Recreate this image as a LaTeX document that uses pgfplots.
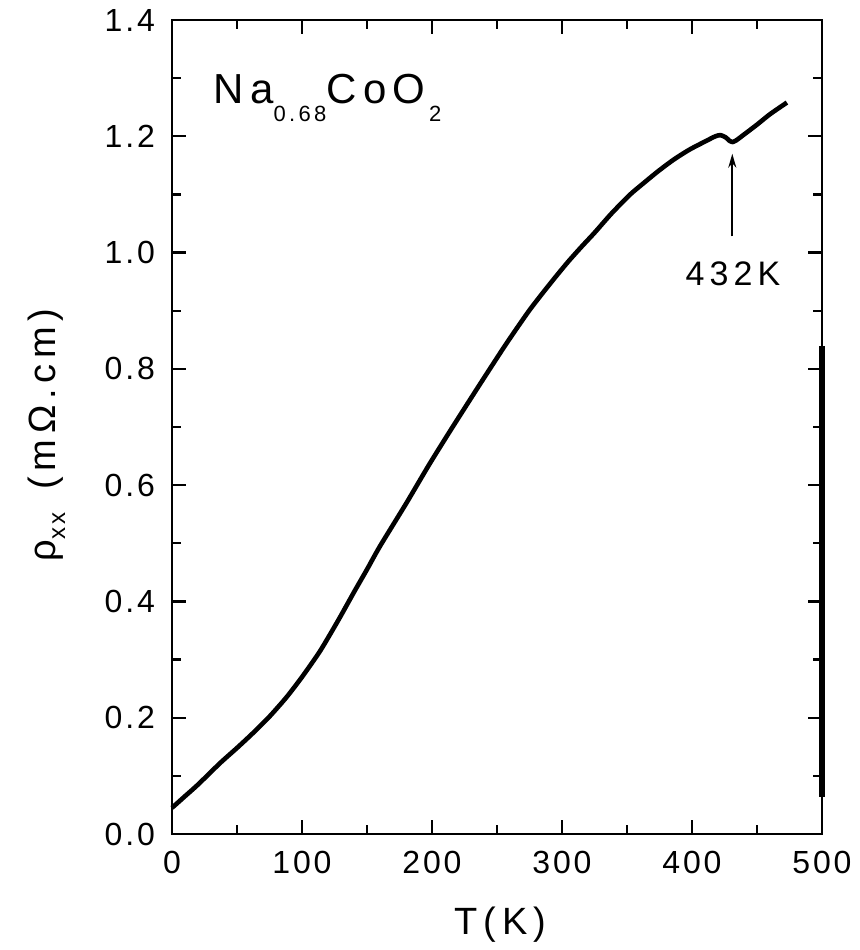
\documentclass[border=0pt]{standalone}
\usepackage{fontspec}
\setmainfont{Liberation Sans}[LetterSpace=15]
\usepackage{pgfplots}
\pgfplotsset{compat=1.18}
\usetikzlibrary{arrows.meta}

\pgfplotstableread{
T rho
0 0.045
10 0.065
20 0.085
37 0.122
50 0.148
62 0.173
75 0.202
88 0.235
100 0.270
114 0.315
128 0.368
140 0.416
150 0.455
160 0.495
180 0.568
198 0.636
215 0.697
237 0.774
255 0.836
265 0.869
275 0.901
285 0.930
295 0.958
305 0.985
315 1.010
325 1.034
338 1.067
352 1.099
362 1.118
374 1.140
386 1.160
398 1.177
410 1.191
418 1.200
422 1.202
426 1.198
429 1.192
431 1.190
434 1.193
440 1.203
450 1.220
460 1.238
473 1.258
}\rhodata

\begin{document}
\begin{tikzpicture}
\path[use as bounding box] (-86pt,-58pt) rectangle (343.5pt,417pt);
\begin{axis}[
  scale only axis, width=325pt, height=407pt,
  xmin=0, xmax=500, ymin=0, ymax=1.4,
  xtick={0,100,...,500}, ytick={0,0.2,...,1.4},
  minor x tick num=1, minor y tick num=1,
  tick align=inside,
  major tick length=7pt, minor tick length=4.5pt,
  axis line style={line width=1.4pt},
  every tick/.style={black, line width=1.2pt},
  /pgf/number format/assume math mode=true,
  tick label style={font=\fontsize{16}{19}\selectfont\addfontfeatures{LetterSpace=9}},
  yticklabel style={/pgf/number format/.cd, fixed, fixed zerofill, precision=1},
  xticklabel style={/pgf/number format/.cd, fixed, precision=0},
  yticklabel shift=5pt, xticklabel shift=5pt,
  scaled ticks=false,
  xlabel={T\,(K)},
  ylabel={ρ\raisebox{-5pt}{\fontsize{12}{14}\selectfont xx}\, (mΩ.cm)},
  label style={font=\fontsize{19}{23}\selectfont},
  xlabel style={at={(axis description cs:0.505,-0.124)}, anchor=base},
  ylabel style={at={(axis description cs:-0.18,0.49)}, anchor=base, rotate=0},
  clip=false,
]
\addplot[black, line width=2.3pt, line join=round, smooth, tension=0.4] table[x=T, y=rho] {\rhodata};
\addplot[black, line width=2.6pt, forget plot] coordinates {(500,0.064) (500,0.840)};
\draw[line width=0.8pt, -{Stealth[length=7pt,width=4pt]}] (axis cs:431,1.028) -- (axis cs:431,1.170);
\node[anchor=base, font=\fontsize{17}{20}\selectfont] at (axis cs:431.5,0.943) {432K};
\node[anchor=base west, font=\fontsize{21}{25}\selectfont, inner sep=0pt] at (axis cs:31.8,1.257)
  {Na\raisebox{-9pt}{\fontsize{11}{13}\selectfont 0.68}CoO\raisebox{-9pt}{\fontsize{11}{13}\selectfont\,2}};
\end{axis}
\end{tikzpicture}
\end{document}
